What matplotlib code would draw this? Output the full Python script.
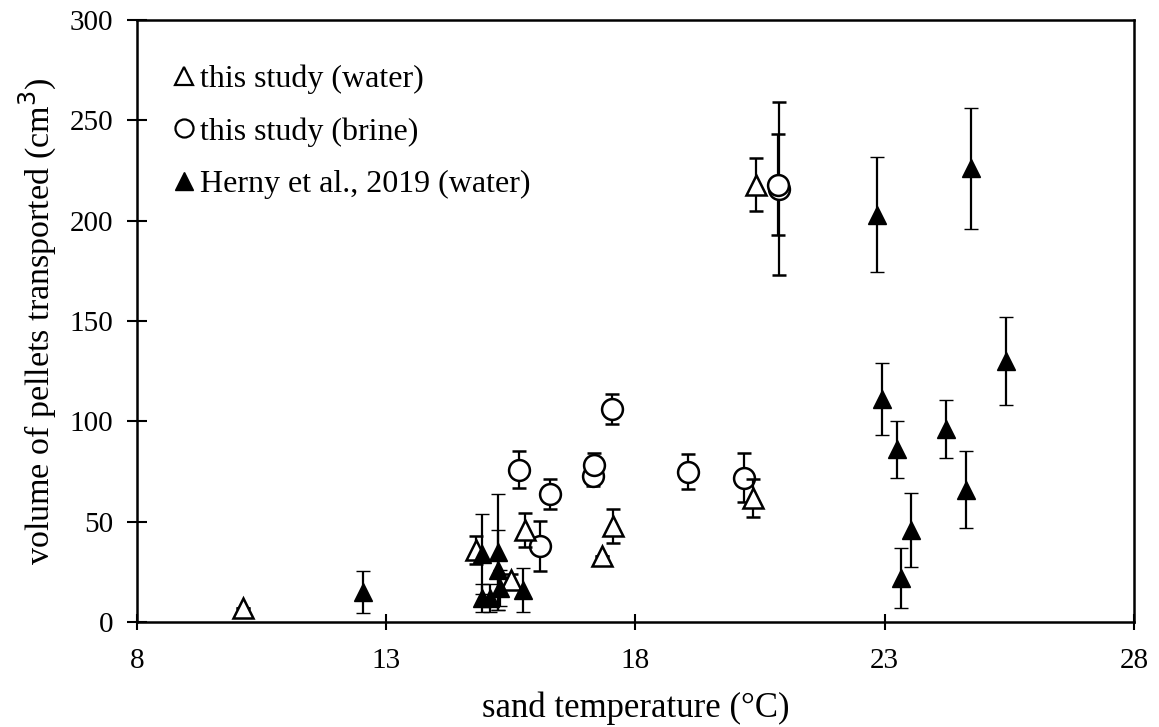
import matplotlib
matplotlib.use("Agg")
import matplotlib.pyplot as plt
from matplotlib.lines import Line2D

plt.rcParams['font.family'] = ['Liberation Serif', 'DejaVu Serif']

# this study (water)
water_x = [10.13, 14.80, 15.50, 15.78, 17.32, 17.55, 20.36, 20.42]
water_y = [7, 36, 21, 46, 33, 48, 62, 218]
water_err = [0, 7, 3, 8.5, 0, 8.5, 9.5, 13]

# this study (brine)
brine_x = [15.66, 16.08, 16.28, 17.15, 17.17, 17.52, 19.06, 20.18, 20.88, 20.86]
brine_y = [76, 38, 64, 73, 78, 106, 75, 72, 216, 218]
brine_err = [9, 12.5, 7.5, 5, 6, 7.5, 8.5, 12, 43, 25]

# Herny et al., 2019 (water)
herny_x = [12.53, 14.93, 15.24, 15.24, 14.92, 15.08, 15.28, 15.75,
           22.84, 24.73, 25.43, 22.94, 23.24, 24.23, 24.63, 23.53, 23.33]
herny_y = [15, 34, 35, 26, 12, 12, 17, 16,
           203, 226, 130, 111, 86, 96, 66, 46, 22]
herny_err = [10.5, 20, 29, 20, 7, 7, 9, 11,
             28.5, 30, 22, 18, 14, 14.5, 19, 18.5, 15]

x_ticks = [8, 13, 18, 23, 28]
y_ticks = [0, 50, 100, 150, 200, 250, 300]

fig = plt.figure(figsize=(11.59, 7.27), dpi=100)
ax = fig.add_axes([0.1182, 0.1444, 0.8602, 0.8281])

ekw = dict(ecolor='black', elinewidth=1.6, capsize=5, capthick=1.6, linestyle='none')

ax.errorbar(brine_x, brine_y, yerr=brine_err, marker='o', ms=15, mfc='white',
            mec='black', mew=1.8, zorder=3, **ekw)
ax.errorbar(water_x, water_y, yerr=water_err, marker='^', ms=14, mfc='white',
            mec='black', mew=1.8, zorder=4, **ekw)
ax.errorbar(herny_x, herny_y, yerr=herny_err, marker='^', ms=13, mfc='black',
            mec='black', mew=1.0, zorder=5, **ekw)

ax.set_xlim(8, 28)
ax.set_ylim(0, 300)
ax.set_xticks(x_ticks)
ax.set_yticks(y_ticks)
ax.tick_params(axis='x', direction='inout', length=12, width=1.5, labelsize=21, pad=13)
ax.tick_params(axis='y', direction='inout', length=14, width=1.5, labelsize=21, pad=10)
for s in ax.spines.values():
    s.set_linewidth(1.8)

ax.set_xlabel('sand temperature (°C)', fontsize=25, labelpad=12)
ax.set_ylabel('volume of pellets transported (cm$^3$)', fontsize=24.5, labelpad=8)

handles = [
    Line2D([], [], marker='^', ls='none', ms=13, mfc='white', mec='black', mew=1.6),
    Line2D([], [], marker='o', ls='none', ms=13, mfc='white', mec='black', mew=1.6),
    Line2D([], [], marker='^', ls='none', ms=13, mfc='black', mec='black'),
]
labels = ['this study (water)', 'this study (brine)', 'Herny et al., 2019 (water)']
ax.legend(handles, labels, loc='upper left', bbox_to_anchor=(0.015, 0.963), frameon=False,
          fontsize=23, handlelength=0.6, handletextpad=0.2, labelspacing=0.72,
          borderaxespad=0.3)

fig.savefig('out.png', dpi=100)
